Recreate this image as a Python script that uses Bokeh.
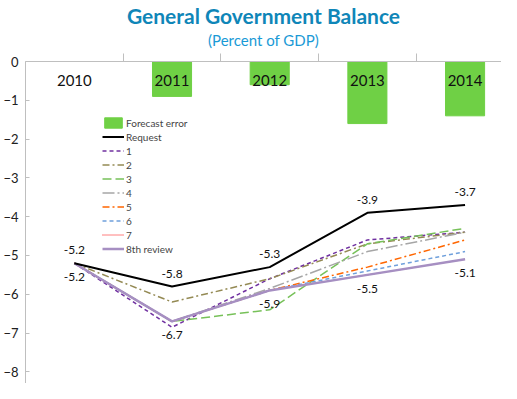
from bokeh.plotting import figure
from bokeh.models import (Legend, LegendItem, LinearAxis, FixedTicker, Title,
                          ColumnDataSource, Range1d)
from bokeh.core.properties import value
from bokeh.embed import file_html
from bokeh.resources import INLINE

years = ["2010", "2011", "2012", "2013", "2014"]
xpos = [0, 1, 2, 3, 4]
forecast_error = [0.0, -0.9, -0.6, -1.6, -1.4]
request = [-5.2, -5.8, -5.3, -3.9, -3.7]
s1 = [-5.2, -6.85, -5.6, -4.6, -4.4]
s2 = [-5.2, -6.2, -5.6, -4.7, -4.4]
s3 = [-5.2, -6.7, -6.4, -4.7, -4.3]
s4 = [-5.2, -6.7, -5.85, -4.9, -4.4]
s5 = [-5.2, -6.7, -5.9, -5.3, -4.6]
s6 = [-5.2, -6.7, -5.9, -5.4, -4.9]
s7 = [-5.2, -6.7, -5.9, -5.5, -5.1]
review8 = [-5.2, -6.7, -5.9, -5.5, -5.1]
request_labels = ["-5.2", "-5.8", "-5.3", "-3.9", "-3.7"]
review8_labels = ["-5.2", "-6.7", "-5.9", "-5.5", "-5.1"]
y_ticks = [0, -1, -2, -3, -4, -5, -6, -7, -8]

FONT = "Lato"

p = figure(width=501, height=383, output_backend="svg", toolbar_location=None,
           x_range=Range1d(-0.5, 4.373), y_range=Range1d(-8.3, 0),
           x_axis_location=None, y_axis_location="left",
           min_border_left=21, min_border_right=0, min_border_bottom=0,
           min_border_top=53, title=None)
p.outline_line_color = None
p.xgrid.visible = False
p.ygrid.visible = False

yax = p.yaxis[0]
yax.ticker = FixedTicker(ticks=y_ticks)
yax.major_tick_out = 0
yax.major_tick_in = 4
yax.minor_tick_out = 0
yax.minor_tick_in = 0
yax.axis_line_color = "#bfbfbf"
yax.major_tick_line_color = "#bfbfbf"
yax.major_label_text_font = FONT
yax.major_label_text_font_size = "13px"
yax.major_label_text_color = "#202020"
yax.major_label_standoff = 7

top_ax = LinearAxis(ticker=FixedTicker(ticks=[0.5, 1.5, 2.5, 3.5]))
top_ax.major_tick_out = 8
top_ax.major_tick_in = 0
top_ax.minor_tick_out = 0
top_ax.minor_tick_in = 0
top_ax.axis_line_color = "#bfbfbf"
top_ax.major_tick_line_color = "#bfbfbf"
top_ax.major_label_overrides = {0.5: " ", 1.5: " ", 2.5: " ", 3.5: " "}
top_ax.major_label_text_font_size = "1px"
top_ax.major_label_standoff = 0
p.add_layout(top_ax, "above")

p.add_layout(Title(text="(Percent of GDP)", align="center", text_font=FONT,
                   text_font_size="15px", text_font_style="normal",
                   text_color="#1a9ad6", standoff=2), "above")
p.add_layout(Title(text="General Government Balance", align="center", text_font=FONT,
                   text_font_size="21px", text_font_style="bold",
                   text_color="#0f86b8", standoff=0), "above")

src = ColumnDataSource(dict(x=xpos, fe=forecast_error, years=years,
                            req=request, r8=review8,
                            rl=request_labels, r8l=review8_labels))

bars = p.vbar(x="x", top=0, bottom="fe", width=0.4, source=src,
              fill_color="#6fd045", line_color="#6fd045")

p.text(x="x", y=-0.48, text="years", source=src, text_font=value(FONT),
       text_font_size="15px", text_align="center", text_baseline="middle",
       text_color="#111111")

specs = [
    ("1", s1, "#7030a0", "4 3", 1.5),
    ("2", s2, "#948a54", "7 3 2 3", 1.5),
    ("3", s3, "#77c159", "9 4", 1.5),
    ("4", s4, "#a6a6a6", "12 3 2 3", 1.5),
    ("5", s5, "#ff6600", "7 3 2 3", 1.5),
    ("6", s6, "#6fa0dc", "4 3", 1.5),
    ("7", s7, "#ff0000", "1 1", 1.0),
]
line_r = {}
for name, ys, col, dash, w in specs:
    line_r[name] = p.line(xpos, ys, line_color=col, line_dash=dash, line_width=w)
r8 = p.line("x", "r8", source=src, line_color="#a68fc2", line_width=2.5)
rq = p.line("x", "req", source=src, line_color="#000000", line_width=2)

p.text(x="x", y="req", text="rl", source=src, text_font=value(FONT),
       text_font_size="12px", text_align="center", text_baseline="middle",
       y_offset=-13, text_color="#111111")
p.text(x="x", y="r8", text="r8l", source=src, text_font=value(FONT),
       text_font_size="12px", text_align="center", text_baseline="middle",
       y_offset=14, text_color="#111111")

items = [LegendItem(label="Forecast error", renderers=[bars]),
         LegendItem(label="Request", renderers=[rq])]
for name, *_ in specs:
    items.append(LegendItem(label=name, renderers=[line_r[name]]))
items.append(LegendItem(label="8th review", renderers=[r8]))

legend = Legend(items=items, location=(77, 128), background_fill_alpha=0,
                border_line_color=None, padding=0, margin=0, spacing=1,
                label_text_font=FONT, label_text_font_size="10px",
                label_height=13, glyph_height=13, glyph_width=22,
                label_standoff=2)
p.add_layout(legend, "center")

open("out.html", "w").write(file_html(p, INLINE))
